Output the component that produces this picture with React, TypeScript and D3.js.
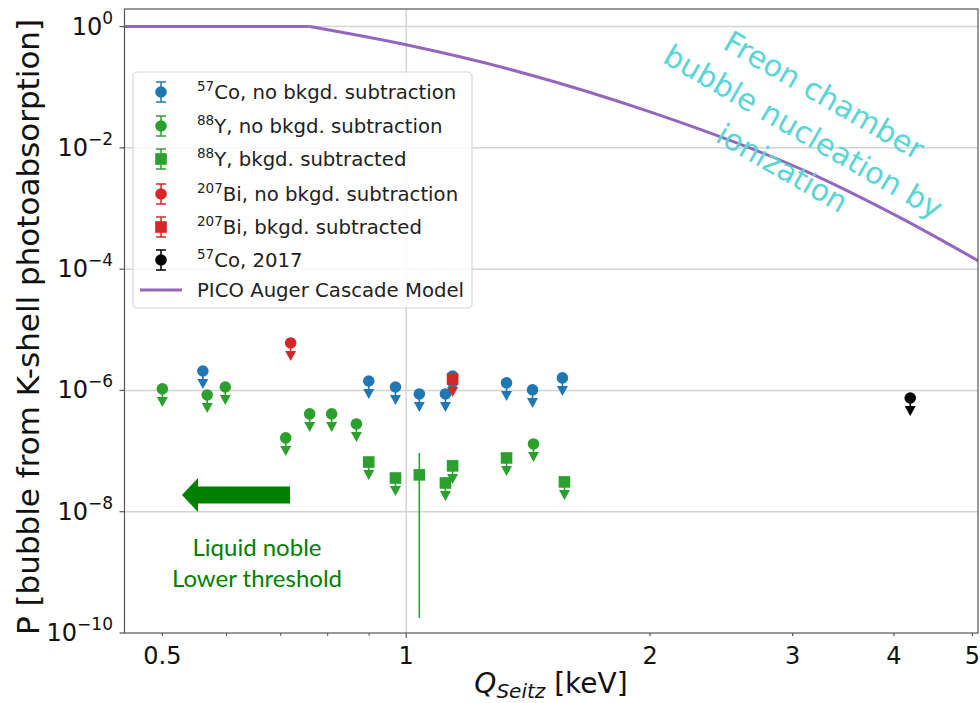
import React from "react";
import * as d3 from "d3";

// ---------- data ----------
const coQ = [0.561, 0.899, 0.970, 1.038, 1.118, 1.141, 1.330, 1.432, 1.559];
const coP = [2.09e-6, 1.43e-6, 1.14e-6, 8.75e-7, 8.75e-7, 1.73e-6, 1.33e-6, 1.02e-6, 1.61e-6];

const yQ = [0.5, 0.568, 0.598, 0.710, 0.760, 0.809, 0.868, 1.436];
const yP = [1.06e-6, 8.43e-7, 1.14e-6, 1.65e-7, 4.1e-7, 4.1e-7, 2.8e-7, 1.31e-7];

const ySubQ = [0.899, 0.970, 1.118, 1.141, 1.330, 1.568];
const ySubP = [6.6e-8, 3.6e-8, 2.98e-8, 5.7e-8, 7.7e-8, 3.1e-8];
const ySubMeasQ = [1.038];
const ySubMeasP = [4.05e-8];
const ySubMeasLo = [1.77e-10];
const ySubMeasHi = [9.3e-8];

const biQ = [0.720];
const biP = [6.07e-6];
const biSubQ = [1.141];
const biSubP = [1.55e-6];

const co17Q = [4.19];
const co17P = [7.5e-7];

const modelQ = [0.449, 0.760, 1.0, 1.395, 2.0, 3.127, 4.06, 5.11];
const modelP = [1, 1, 0.5, 0.172, 0.0392, 4.02e-3, 7.2e-4, 1.32e-4];

const xTickVals = [0.5, 1, 2, 3, 4, 5];
const xTickLabels = ["0.5", "1", "2", "3", "4", "5"];
const xMinorVals = [0.6, 0.7, 0.8, 0.9];
const yTickExp = [0, -2, -4, -6, -8, -10];

const legendSup = ["57", "88", "88", "207", "207", "57", ""];
const legendText = [
  "Co, no bkgd. subtraction",
  "Y, no bkgd. subtraction",
  "Y, bkgd. subtracted",
  "Bi, no bkgd. subtraction",
  "Bi, bkgd. subtracted",
  "Co, 2017",
  "PICO Auger Cascade Model",
];
const annotationLines = ["Freon chamber", "bubble nucleation by", "ionization"];
const noteLines = ["Liquid noble", "Lower threshold"];

// ---------- styles ----------
const BLUE = "#1f77b4";
const GREEN = "#2ca02c";
const RED = "#d62728";
const BLACK = "#000000";
const PURPLE = "#9467bd";
const FONT = "DejaVu Sans, sans-serif";

const W = 980, H = 703;
const L = 124.5, R = 978, T = 9, B = 633;

export default function App() {
  const x = d3.scaleLog().domain([0.449, 5.08]).range([L, R]);
  const y = d3.scaleLog().domain([1e-10, Math.pow(10, 0.29)]).range([B, T]);

  const pts: [number, number][] = modelQ.map((q, i) => [x(q), y(modelP[i])]);
  const flatPath = d3.line().curve(d3.curveLinear)(pts.slice(0, 2)) || "";
  const fallPath = d3.line().curve(d3.curveMonotoneX)(pts.slice(1)) || "";

  const arrow = (cx: number, cy: number, color: string, key: string) => (
    <g key={key}>
      <line x1={cx} x2={cx} y1={cy} y2={cy + 10} stroke={color} strokeWidth={1.6} />
      <path d={`M${cx - 5.5},${cy + 8} L${cx + 5.5},${cy + 8} L${cx},${cy + 18} Z`} fill={color} />
    </g>
  );

  const circles = (qs: number[], ps: number[], color: string, k: string) =>
    qs.map((q, i) => {
      const cx = x(q), cy = y(ps[i]);
      return (
        <g key={k + i}>
          {arrow(cx, cy, color, k + "a" + i)}
          <circle cx={cx} cy={cy} r={5.8} fill={color} />
        </g>
      );
    });

  const squares = (qs: number[], ps: number[], color: string, k: string, withArrow = true) =>
    qs.map((q, i) => {
      const cx = x(q), cy = y(ps[i]);
      return (
        <g key={k + i}>
          {withArrow && arrow(cx, cy, color, k + "a" + i)}
          <rect x={cx - 5.8} y={cy - 5.8} width={11.6} height={11.6} fill={color} />
        </g>
      );
    });

  const legendColors = [BLUE, GREEN, GREEN, RED, RED, BLACK, PURPLE];
  const legendShapes = ["c", "c", "s", "c", "s", "c", "l"];
  const legendY = [92, 126, 159, 194, 227, 260, 290];

  return (
    <svg
      width={W}
      height={H}
      style={{ position: "absolute", left: 0, top: 0, display: "block", background: "#fff" }}
      fontFamily={FONT}
    >
      <defs>
        <clipPath id="plotclip">
          <rect x={L} y={T} width={R - L} height={B - T} />
        </clipPath>
      </defs>
      <rect x={0} y={0} width={W} height={H} fill="#fff" />

      {/* grid */}
      {yTickExp.slice(0, 5).map((e) => (
        <line key={"gy" + e} x1={L} x2={R} y1={y(Math.pow(10, e))} y2={y(Math.pow(10, e))} stroke="#d3d3d3" strokeWidth={1.5} />
      ))}
      <line x1={x(1)} x2={x(1)} y1={T} y2={B} stroke="#d3d3d3" strokeWidth={1.5} />

      {/* model line */}
      <g clipPath="url(#plotclip)" fill="none" stroke={PURPLE} strokeWidth={3}>
        <path d={flatPath} />
        <path d={fallPath} />
      </g>

      {/* data */}
      {circles(coQ, coP, BLUE, "co")}
      {circles(yQ, yP, GREEN, "y")}
      {squares(ySubQ, ySubP, GREEN, "ys")}
      {ySubMeasQ.map((q, i) => (
        <line key={"ye" + i} x1={x(q)} x2={x(q)} y1={y(ySubMeasHi[i])} y2={y(ySubMeasLo[i])} stroke={GREEN} strokeWidth={1.6} />
      ))}
      {squares(ySubMeasQ, ySubMeasP, GREEN, "ym", false)}
      {circles(biQ, biP, RED, "bi")}
      {squares(biSubQ, biSubP, RED, "bs")}
      {circles(co17Q, co17P, BLACK, "c17")}

      {/* spines */}
      <rect x={L} y={T} width={R - L} height={B - T} fill="none" stroke="#555" strokeWidth={1.2} />

      {/* y ticks */}
      {yTickExp.map((e) => {
        const yy = y(Math.pow(10, e));
        return (
          <g key={"yt" + e}>
            <line x1={L - 5} x2={L} y1={yy} y2={yy} stroke="#555" strokeWidth={1.2} />
            <text x={113} y={yy + 8} textAnchor="end" fontSize={24} fill="#111">
              10
              <tspan fontSize={17} dy={-11}>{e === 0 ? "0" : "\u2212" + Math.abs(e)}</tspan>
            </text>
          </g>
        );
      })}

      {/* x ticks */}
      {xTickVals.map((v, i) => (
        <g key={"xt" + v}>
          <line x1={x(v)} x2={x(v)} y1={B} y2={B + (v === 1 ? 5 : 3)} stroke="#555" strokeWidth={1.2} />
          <text x={x(v)} y={B + 31} textAnchor="middle" fontSize={24} fill="#111">
            {xTickLabels[i]}
          </text>
        </g>
      ))}
      {xMinorVals.map((v) => (
        <line key={"xm" + v} x1={x(v)} x2={x(v)} y1={B} y2={B + 3} stroke="#555" strokeWidth={1} />
      ))}

      {/* axis labels */}
      <text x={551} y={693} textAnchor="middle" fontSize={28} fill="#111">
        <tspan fontStyle="italic">Q</tspan>
        <tspan fontStyle="italic" fontSize={20} dy={5}>Seitz</tspan>
        <tspan dy={-5}> [keV]</tspan>
      </text>
      <text
        transform={`translate(39,${(T + B) / 2 + 6}) rotate(-90)`}
        textAnchor="middle"
        fontSize={31}
        fill="#111"
      >
        P [bubble from K-shell photoabsorption]
      </text>

      {/* legend */}
      <rect x={133} y={72} width={339} height={236} rx={4} fill="#fff" fillOpacity={0.85} stroke="#d5d5d5" strokeWidth={1.2} />
      {legendText.map((t, i) => {
        const ly = legendY[i];
        const c = legendColors[i];
        const lx = 161;
        return (
          <g key={"lg" + i}>
            {legendShapes[i] === "l" ? (
              <line x1={140} x2={182} y1={ly} y2={ly} stroke={c} strokeWidth={3} />
            ) : (
              <g>
                <line x1={lx} x2={lx} y1={ly - 10} y2={ly + 10} stroke={c} strokeWidth={1.5} />
                <line x1={lx - 5} x2={lx + 5} y1={ly - 10} y2={ly - 10} stroke={c} strokeWidth={1.5} />
                <line x1={lx - 5} x2={lx + 5} y1={ly + 10} y2={ly + 10} stroke={c} strokeWidth={1.5} />
                {legendShapes[i] === "c" ? (
                  <circle cx={lx} cy={ly} r={5.8} fill={c} />
                ) : (
                  <rect x={lx - 5.8} y={ly - 5.8} width={11.6} height={11.6} fill={c} />
                )}
              </g>
            )}
            <text x={197} y={ly + 7} fontSize={19.7} fill="#222">
              {legendSup[i] ? (
                <>
                  <tspan fontSize={13.5} dy={-8}>{legendSup[i]}</tspan>
                  <tspan dy={8}>{t}</tspan>
                </>
              ) : (
                t
              )}
            </text>
          </g>
        );
      })}

      {/* annotations */}
      <g transform="translate(803,132) rotate(30)" fill="#5ad5d6" fontSize={30} textAnchor="middle">
        {annotationLines.map((t, i) => (
          <text key={"an" + i} x={0} y={(i - 1) * 42 + 10}>
            {t}
          </text>
        ))}
      </g>

      <path d="M182,495 L198,478 L198,486.5 L290,486.5 L290,503.5 L198,503.5 L198,512 Z" fill="#008000" />
      {noteLines.map((t, i) => (
        <text key={"nl" + i} x={257} y={556 + i * 31} textAnchor="middle" fontSize={24} fill="#008000" fontFamily="Lato, Open Sans, sans-serif">
          {t}
        </text>
      ))}
    </svg>
  );
}
